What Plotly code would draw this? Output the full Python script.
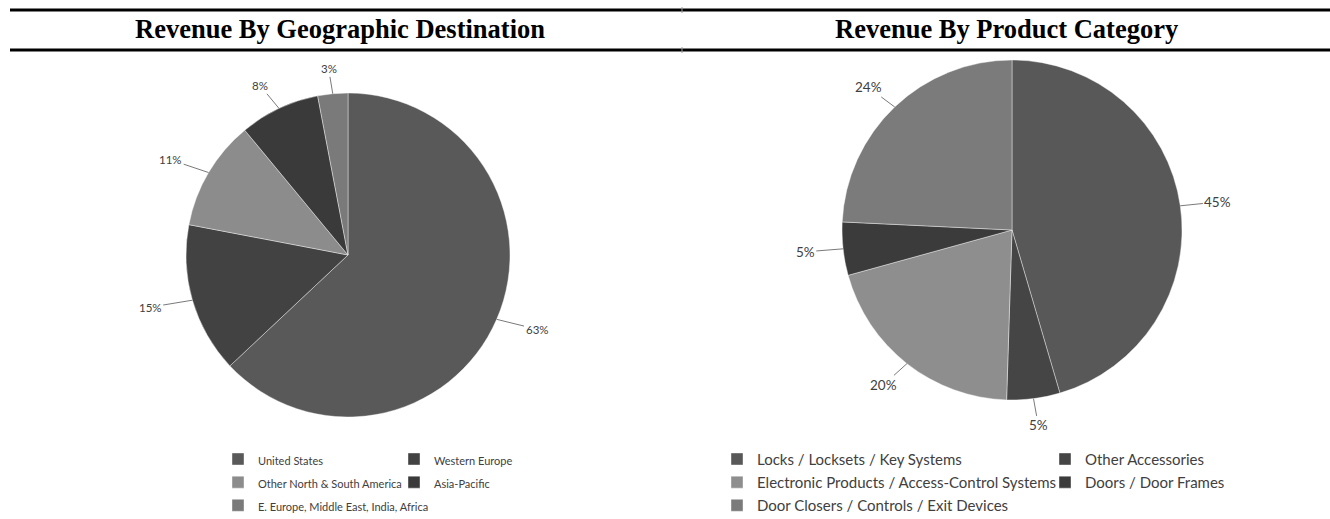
import math
import plotly.graph_objects as go

# ---------------- data ----------------
geo_title = "Revenue By Geographic Destination"
geo_labels = ["United States", "Western Europe", "Other North & South America",
              "Asia-Pacific", "E. Europe, Middle East, India, Africa"]
geo_values = [63, 15, 11, 8, 3]
geo_colors = ["#595959", "#424242", "#8c8c8c", "#3a3a3a", "#7a7a7a"]

prod_title = "Revenue By Product Category"
prod_labels = ["Locks / Locksets / Key Systems", "Other Accessories",
               "Electronic Products / Access-Control Systems", "Doors / Door Frames",
               "Door Closers / Controls / Exit Devices"]
prod_values = [45, 5, 20, 5, 24]
prod_colors = ["#585858", "#454545", "#8e8e8e", "#3b3b3b", "#7b7b7b"]

# ---------------- layout geometry (pixels) ----------------
W, H = 1330, 519
ML, MR = 100, 140
GW = W - ML - MR
LEG_FS = 15.5
FONT = "Lato"
TXT_COLOR = "#404040"

pies = [
    dict(labels=geo_labels, values=geo_values, colors=geo_colors, cx=348, cy=255, r=162,
         legend="legend", title=geo_title, tx=340, txt=11, pct=11.5, dh=44, dv=25),
    dict(labels=prod_labels, values=prod_values, colors=prod_colors, cx=1012, cy=230, r=170,
         legend="legend2", title=prod_title, tx=1006, txt=15, pct=13.5, dh=38, dv=27),
]


def px_x(px):
    return (px - ML) / GW


def px_y(py):
    return (H - py) / H


fig = go.Figure()
annotations = []
for p in pies:
    cx, cy, r = p["cx"], p["cy"], p["r"]
    fig.add_trace(go.Pie(
        labels=[f"<span style='font-size:{p['txt']}px'>{l}</span>" for l in p["labels"]],
        values=p["values"],
        marker=dict(colors=p["colors"], line=dict(color="rgba(255,255,255,0.4)", width=1)),
        sort=False, direction="clockwise", rotation=0,
        textinfo="none", hoverinfo="label+percent",
        domain=dict(x=[px_x(cx - r), px_x(cx + r)], y=[px_y(cy + r), px_y(cy - r)]),
        legend=p["legend"], showlegend=True,
    ))
    total = sum(p["values"])
    cum = 0
    for v in p["values"]:
        th = 2 * math.pi * (cum + v / 2) / total
        cum += v
        ex = cx + r * math.sin(th)
        ey = cy - r * math.cos(th)
        annotations.append(dict(
            x=px_x(ex), y=px_y(ey), xref="paper", yref="paper",
            ax=p["dh"] * math.sin(th), ay=-p["dv"] * math.cos(th),
            text=f"{v}%", showarrow=True, arrowhead=0, arrowwidth=1,
            arrowcolor="#7a7a7a", standoff=0,
            font=dict(family=FONT, size=p["pct"], color=TXT_COLOR),
        ))
    annotations.append(dict(
        x=px_x(p["tx"]), y=px_y(29), xref="paper", yref="paper",
        text=p["title"], showarrow=False, xanchor="center", yanchor="middle",
        font=dict(family="Liberation Serif", size=26.5, color="black", weight="bold"),
    ))

shapes = []
for yy in (10, 50):
    shapes.append(dict(type="line", xref="paper", yref="paper",
                       x0=px_x(10), x1=px_x(W), y0=px_y(yy), y1=px_y(yy),
                       line=dict(color="black", width=3)))
    shapes.append(dict(type="line", xref="paper", yref="paper",
                       x0=px_x(682), x1=px_x(682), y0=px_y(yy - 3), y1=px_y(yy + 3),
                       line=dict(color="#9a9a9a", width=1)))

row_h = max(LEG_FS * 1.3, 16) + 3
row1 = 459
BW = 170
legend_common = dict(orientation="h", bgcolor="rgba(0,0,0,0)", bordercolor="rgba(0,0,0,0)",
                     entrywidthmode="pixels", font=dict(family=FONT, size=LEG_FS, color=TXT_COLOR),
                     itemclick=False, itemdoubleclick=False, yanchor="top", maxheight=519)

fig.update_layout(
    width=W, height=H,
    margin=dict(l=ML, r=MR, t=0, b=0, autoexpand=False),
    paper_bgcolor="white", plot_bgcolor="white",
    annotations=annotations, shapes=shapes,
    legend=dict(legend_common, x=px_x(218 - BW), xanchor="left",
                y=px_y(row1 - BW - row_h / 2 - 5), borderwidth=BW, entrywidth=131),
    legend2=dict(legend_common, x=px_x(717 + 656), xanchor="right",
                 y=px_y(row1 - row_h / 2 - 5), borderwidth=0, entrywidth=283),
)

fig.write_html("out.html", config={"displayModeBar": False},
               post_script="document.body.style.margin='0';")
